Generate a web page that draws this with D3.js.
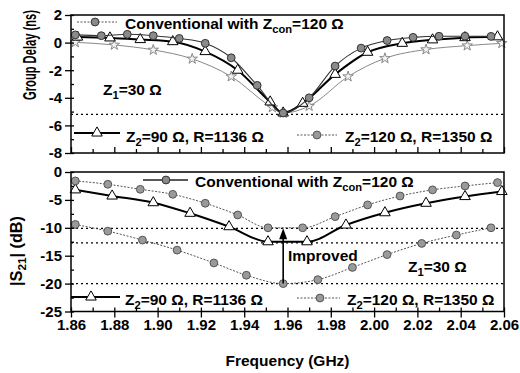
<!DOCTYPE html>
<html>
<head>
<meta charset="utf-8">
<script src="https://cdn.jsdelivr.net/npm/d3@7"></script>
<style>
  body { margin: 0; background: #fff; }
  text { font-family: "Liberation Sans", Arial, sans-serif; font-weight: bold; fill: #000; }
</style>
</head>
<body>
<div id="chart"></div>
<script>
// ---- group delay (ns), upper panel ----
const gdZ120Freq = [1.862, 1.874, 1.886, 1.898, 1.910, 1.922, 1.934, 1.946, 1.958, 1.970, 1.982, 1.994, 2.006, 2.018, 2.030, 2.042, 2.054];
const gdZ120 = [0.56, 0.50, 0.60, 0.50, 0.30, -0.05, -1.1, -3.1, -5.1, -4.0, -1.7, -0.4, 0.15, 0.38, 0.46, 0.46, 0.45];
const gdZ90Freq = [1.863, 1.878, 1.892, 1.907, 1.922, 1.937, 1.952, 1.958, 1.967, 1.982, 1.997, 2.013, 2.027, 2.042, 2.057];
const gdZ90 = [0.40, 0.34, 0.22, 0.07, -0.65, -2.0, -4.3, -5.1, -4.4, -2.3, -0.7, -0.05, 0.2, 0.36, 0.42];
const gdConvFreq = [1.862, 1.880, 1.898, 1.916, 1.934, 1.953, 1.958, 1.970, 1.988, 2.005, 2.024, 2.043, 2.059];
const gdConv = [0.02, -0.17, -0.53, -1.18, -2.46, -4.7, -5.1, -4.6, -2.46, -1.14, -0.5, -0.22, -0.05];
const gdRefLines = [-5.2];

// ---- |S21| (dB), lower panel ----
const s21Z120Freq = [1.862, 1.877, 1.892, 1.907, 1.922, 1.937, 1.951, 1.967, 1.982, 1.997, 2.012, 2.027, 2.042, 2.057];
const s21Z120 = [-1.6, -2.2, -3.1, -4.0, -5.6, -7.7, -10.0, -10.0, -8.0, -5.9, -4.3, -3.2, -2.5, -1.9];
const s21Z90Freq = [1.862, 1.879, 1.898, 1.915, 1.933, 1.951, 1.969, 1.987, 2.005, 2.024, 2.042, 2.059];
const s21Z90 = [-3.2, -4.3, -5.5, -7.4, -9.8, -12.5, -12.5, -9.5, -7.3, -5.6, -4.4, -3.5];
const s21ConvFreq = [1.862, 1.877, 1.893, 1.909, 1.926, 1.941, 1.958, 1.974, 1.990, 2.006, 2.022, 2.038, 2.054];
const s21Conv = [-9.4, -10.6, -12.2, -14.0, -16.3, -18.5, -20.0, -19.3, -17.1, -14.8, -12.8, -11.3, -10.0];
const s21RefLines = [-10.1, -12.7, -20.0];
const improvedFreq = 1.958, improvedFrom = -20.0, improvedTo = -10.1;

// ---- ticks ----
const freqTicks = [1.86, 1.88, 1.90, 1.92, 1.94, 1.96, 1.98, 2.00, 2.02, 2.04, 2.06];
const freqMinor = [1.87, 1.89, 1.91, 1.93, 1.95, 1.97, 1.99, 2.01, 2.03, 2.05];
const gdTicks = [2, 0, -2, -4, -6, -8];
const gdMinor = [1, -1, -3, -5, -7];
const s21Ticks = [0, -5, -10, -15, -20, -25];
const s21Minor = [-2.5, -7.5, -12.5, -17.5, -22.5];

const W = 520, H = 373;
const svg = d3.select("#chart").append("svg").attr("width", W).attr("height", H);

const x = d3.scaleLinear().domain([1.86, 2.06]).range([71, 504]);
const yTop = d3.scaleLinear().domain([-8, 2]).range([153, 15]);
const yBot = d3.scaleLinear().domain([-25, 0]).range([311.5, 172]);

// marker / line styles
const styles = {
  darkDot: { line: "#333", width: 1.1, dash: null, sym: d3.symbolCircle, size: 48, fill: "#8a8a8a", stroke: "#333" },
  grayDot: { line: "#555", width: 1, dash: "2,1.5", sym: d3.symbolCircle, size: 48, fill: "#9a9a9a", stroke: "#555" },
  tri:     { line: "#000", width: 2, dash: null, sym: d3.symbolTriangle, size: 48, fill: "#fff", stroke: "#000" },
  star:    { line: "#888", width: 1, dash: null, sym: d3.symbolStar, size: 34, fill: "#f2f2f2", stroke: "#888" }
};

function drawSeries(y, freq, vals, st) {
  const pts = freq.map((f, i) => [f, vals[i]]);
  svg.append("path")
    .datum(pts)
    .attr("fill", "none")
    .attr("stroke", st.line)
    .attr("stroke-width", st.width)
    .attr("stroke-dasharray", st.dash)
    .attr("d", d3.line().x(d => x(d[0])).y(d => y(d[1])).curve(d3.curveMonotoneX));
  svg.append("g").selectAll("path")
    .data(pts)
    .enter().append("path")
    .attr("transform", d => `translate(${x(d[0])},${y(d[1])})`)
    .attr("d", d3.symbol().type(st.sym).size(st.size))
    .attr("fill", st.fill)
    .attr("stroke", st.stroke)
    .attr("stroke-width", 1);
}

function refLines(y, vals) {
  svg.append("g").selectAll("line")
    .data(vals)
    .enter().append("line")
    .attr("x1", x(1.86)).attr("x2", x(2.06))
    .attr("y1", d => y(d)).attr("y2", d => y(d))
    .attr("stroke", "#000")
    .attr("stroke-width", 1.3)
    .attr("stroke-dasharray", "2,3");
}

function frame(y) {
  svg.append("rect")
    .attr("x", x(1.86)).attr("y", y.range()[1])
    .attr("width", x(2.06) - x(1.86))
    .attr("height", y.range()[0] - y.range()[1])
    .attr("fill", "none")
    .attr("stroke", "#000")
    .attr("stroke-width", 1.5);
}

function yAxis(y, major, minor) {
  const g = svg.append("g").attr("transform", `translate(${x(1.86)},0)`);
  g.call(d3.axisLeft(y).tickValues(major).tickSize(6).tickPadding(3).tickFormat(d => String(d)));
  g.append("g").call(d3.axisRight(y).tickValues(major.concat(minor)).tickSize(3).tickFormat(""));
  g.selectAll(".domain").remove();
  g.selectAll("text").attr("font-size", 15).attr("font-family", null);
  g.selectAll("line").attr("stroke-width", 1.3);
}

// text with subscripts: parts like {t:"Z"}, {sub:"2"}
function textWithSubs(parts, px, py, size) {
  const t = svg.append("text").attr("x", px).attr("y", py).attr("font-size", size);
  let shift = 0;
  parts.forEach(p => {
    if (p.sub) {
      t.append("tspan").attr("font-size", size * 0.72).attr("dy", 4 - shift).text(p.sub);
      shift = 4;
    } else {
      t.append("tspan").attr("dy", -shift).text(p.t);
      shift = 0;
    }
  });
  return t;
}

function legendItem(x1, x2, ly, mx, st, lineStyle) {
  svg.append("line")
    .attr("x1", x1).attr("x2", x2).attr("y1", ly).attr("y2", ly)
    .attr("stroke", lineStyle.color).attr("stroke-width", lineStyle.width)
    .attr("stroke-dasharray", lineStyle.dash);
  svg.append("path")
    .attr("transform", `translate(${mx},${ly})`)
    .attr("d", d3.symbol().type(st.sym).size(st.size))
    .attr("fill", st.fill).attr("stroke", st.stroke);
}

// ---------- upper panel ----------
refLines(yTop, gdRefLines);
drawSeries(yTop, gdConvFreq, gdConv, styles.star);
drawSeries(yTop, gdZ90Freq, gdZ90, styles.tri);
drawSeries(yTop, gdZ120Freq, gdZ120, styles.darkDot);
frame(yTop);
yAxis(yTop, gdTicks, gdMinor);
const xt = svg.append("g").attr("transform", `translate(0,${yTop.range()[0]})`);
xt.call(d3.axisTop(x).tickValues(freqTicks).tickSize(6).tickFormat(""));
xt.append("g").call(d3.axisTop(x).tickValues(freqMinor).tickSize(4).tickFormat(""));
xt.selectAll(".domain").remove();
xt.selectAll("line").attr("stroke-width", 1.3);

legendItem(77, 117, 22, 95, styles.darkDot, { color: "#555", width: 1, dash: "2,1.5" });
textWithSubs([{ t: "Conventional with Z" }, { sub: "con" }, { t: "=120 Ω" }], 125, 29, 15.5);
textWithSubs([{ t: "Z" }, { sub: "1" }, { t: "=30 Ω" }], 103, 95, 15.5);
legendItem(74, 120, 133, 97, styles.tri, { color: "#000", width: 2, dash: null });
textWithSubs([{ t: "Z" }, { sub: "2" }, { t: "=90 Ω, R=1136 Ω" }], 126, 142, 15.5);
legendItem(297, 337, 135, 317, styles.grayDot, { color: "#555", width: 1, dash: "2,1.5" });
textWithSubs([{ t: "Z" }, { sub: "2" }, { t: "=120 Ω, R=1350 Ω" }], 345, 142, 15.5);

// ---------- lower panel ----------
refLines(yBot, s21RefLines);
drawSeries(yBot, s21ConvFreq, s21Conv, styles.grayDot);
drawSeries(yBot, s21Z90Freq, s21Z90, styles.tri);
drawSeries(yBot, s21Z120Freq, s21Z120, styles.grayDot);
frame(yBot);
yAxis(yBot, s21Ticks, s21Minor);
const xb = svg.append("g").attr("transform", `translate(0,${yBot.range()[0]})`);
xb.call(d3.axisBottom(x).tickValues(freqTicks).tickSize(6).tickPadding(2).tickFormat(d3.format(".2f")));
xb.append("g").call(d3.axisTop(x).tickValues(freqTicks.concat(freqMinor)).tickSize(4).tickFormat(""));
xb.selectAll(".domain").remove();
xb.selectAll("text").attr("font-size", 15).attr("font-family", null);
xb.selectAll("line").attr("stroke-width", 1.3);

// improved arrow
const ax = x(improvedFreq), ay1 = yBot(improvedFrom), ay2 = yBot(improvedTo);
svg.append("line").attr("x1", ax).attr("x2", ax).attr("y1", ay1).attr("y2", ay2 + 8)
  .attr("stroke", "#000").attr("stroke-width", 1.6);
svg.append("path").attr("d", `M${ax},${ay2} L${ax - 4},${ay2 + 11} L${ax + 4},${ay2 + 11} Z`).attr("fill", "#000");
svg.append("text").attr("x", 288).attr("y", 261).attr("font-size", 15.5).text("Improved");

legendItem(143, 188, 180, 166, styles.darkDot, { color: "#222", width: 1.4, dash: null });
textWithSubs([{ t: "Conventional with Z" }, { sub: "con" }, { t: "=120 Ω" }], 195, 187, 15.5);
textWithSubs([{ t: "Z" }, { sub: "1" }, { t: "=30 Ω" }], 408, 272, 15.5);
legendItem(71, 120, 297, 91, styles.tri, { color: "#000", width: 2, dash: null });
textWithSubs([{ t: "Z" }, { sub: "2" }, { t: "=90 Ω, R=1136 Ω" }], 125, 305, 15.5);
legendItem(297, 340, 298, 320, styles.grayDot, { color: "#555", width: 1, dash: "2,1.5" });
textWithSubs([{ t: "Z" }, { sub: "2" }, { t: "=120 Ω, R=1350 Ω" }], 347, 305, 15.5);

// ---------- axis titles ----------
svg.append("text").attr("x", (x(1.86) + x(2.06)) / 2).attr("y", 366)
  .attr("text-anchor", "middle").attr("font-size", 15.5).text("Frequency (GHz)");

// rotated titles, squeezed along their length like the scan
function yTitle(parts, bx, cy, len, size) {
  const t = textWithSubs(parts, 0, 0, size);
  const w = t.node().getBBox().width;
  t.attr("text-anchor", "middle");
  t.attr("transform", `translate(${bx},${cy}) rotate(-90) scale(${len / w},1)`);
}
yTitle([{ t: "Group Delay (ns)" }], 36, 55, 90, 18);
yTitle([{ t: "|S" }, { sub: "21" }, { t: "| (dB)" }], 22, 251, 70, 16);
</script>
</body>
</html>
